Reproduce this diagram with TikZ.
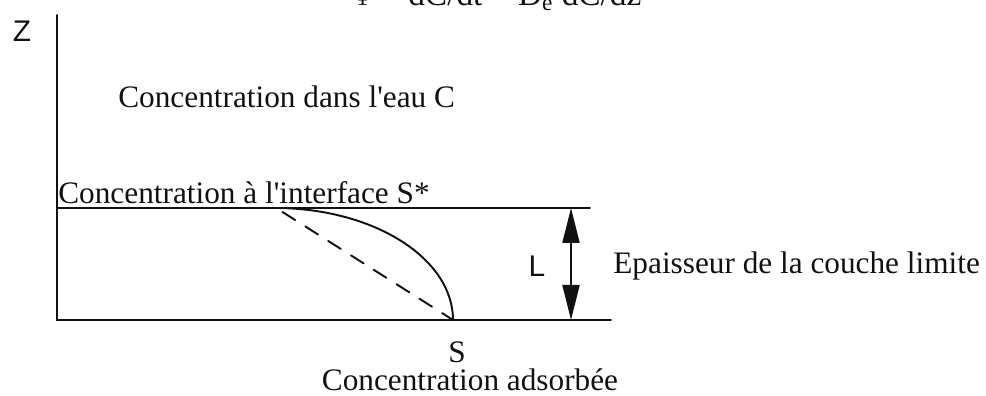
\documentclass[tikz,border=0pt]{standalone}
\usepackage{fontspec}
\setmainfont{Liberation Serif}
\setsansfont{Liberation Sans}
\usepackage{tikz}
\usetikzlibrary{arrows.meta}
\definecolor{layerink}{HTML}{111111}

\begin{document}
\begin{tikzpicture}[>=Triangle,line cap=round,
    axisline/.style={layerink,line width=1.1pt},
    label/.style={font=\fontsize{17.8}{21}\selectfont,text=layerink,inner sep=0pt}]
  \useasboundingbox (0,0) rectangle (19.72,7.92);
  \clip (0,0) rectangle (19.72,7.92);

  \coordinate (origin) at (1.14,1.52);
  \coordinate (ztop) at (1.14,7.62);
  \coordinate (bottomend) at (12.22,1.52);
  \coordinate (ifend) at (11.8,3.76);
  \coordinate (origin-if) at (1.14,3.76);
  \coordinate (Ltop) at (11.42,3.76);
  \coordinate (Lbot) at (11.42,1.52);
  \coordinate (profstart) at (5.5,3.76);
  \coordinate (profend) at (9.06,1.52);

  \draw[axisline] (ztop) -- (origin) -- (bottomend);
  \draw[axisline] (origin-if) -- (ifend);
  \draw[axisline,<->,>={Triangle[length=7mm,width=3.4mm]}] (Ltop) -- (Lbot);

  \draw[axisline] (profstart) arc[start angle=90,end angle=0,
    x radius=3.56cm,y radius=2.24cm];
  \draw[axisline,dashed,dash pattern=on 3mm off 2.4mm] (5.65,3.68) -- (profend);

  \node[label,font=\sffamily\fontsize{17}{20}\selectfont] (zlab) at (0.44,7.3) {Z};
  \node[label,font=\sffamily\fontsize{17}{20}\selectfont] (llab) at (10.74,2.6) {L};
  \node[label,anchor=base,font=\fontsize{19}{22}\selectfont] (flux) at (9.94,7.8)
    {$\Phi$ = dC/dt = D\textsubscript{e} dC/dz};
  \node[label,anchor=west] (eau) at (2.36,5.98)
    {Concentration dans l\textquotesingle eau C};
  \node[label,anchor=base west] (interf) at (1.16,3.84)
    {Concentration à l\textquotesingle interface S*};
  \node[label,anchor=west] (epais) at (12.26,2.6)
    {Epaisseur de la couche limite};
  \node[label] (slab) at (9.14,0.88) {S};
  \node[label] (ads) at (9.4,0.32) {Concentration adsorbée};
\end{tikzpicture}
\end{document}
